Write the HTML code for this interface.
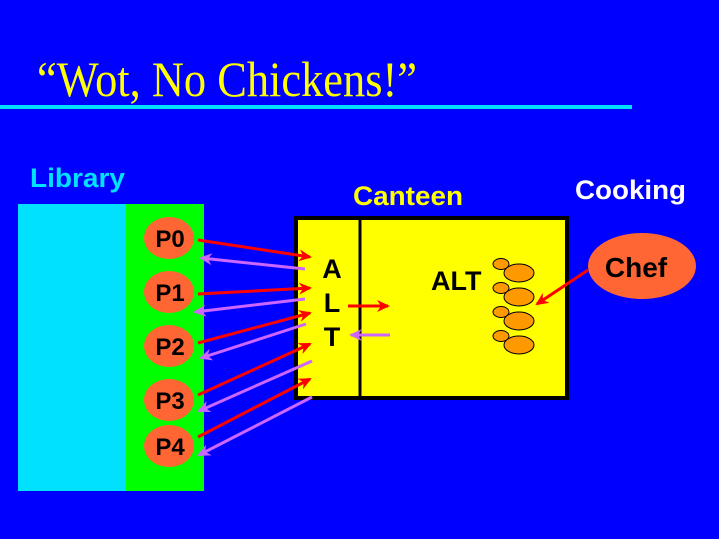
<!DOCTYPE html>
<html><head><meta charset="utf-8"><style>html,body{margin:0;padding:0;background:#0000ff;}svg{display:block}</style></head>
<body>
<svg width="719" height="539" viewBox="0 0 719 539" xmlns="http://www.w3.org/2000/svg">
<defs>
<marker id="r" markerWidth="14" markerHeight="12" refX="11" refY="6" orient="auto" markerUnits="userSpaceOnUse"><path d="M0,0 L13,6 L0,12 L4,6 Z" fill="#ff0000"/></marker>
<marker id="v" markerWidth="14" markerHeight="12" refX="11" refY="6" orient="auto" markerUnits="userSpaceOnUse"><path d="M0,0 L13,6 L0,12 L4,6 Z" fill="#cc66ff"/></marker>
</defs>
<rect width="719" height="539" fill="#0000ff"/>
<text x="37" y="96" font-family="Liberation Serif, serif" font-size="50" fill="#ffff00" textLength="380" lengthAdjust="spacingAndGlyphs">“Wot, No Chickens!”</text>
<rect x="0" y="105" width="632" height="4" fill="#00e0ff"/>
<text x="30" y="187" font-family="Liberation Sans, sans-serif" font-weight="bold" font-size="27" fill="#00e0ff" textLength="95" lengthAdjust="spacingAndGlyphs">Library</text>
<text x="353" y="205" font-family="Liberation Sans, sans-serif" font-weight="bold" font-size="27" fill="#ffff00" textLength="110" lengthAdjust="spacingAndGlyphs">Canteen</text>
<text x="575" y="199" font-family="Liberation Sans, sans-serif" font-weight="bold" font-size="27" fill="#ffffff" textLength="111" lengthAdjust="spacingAndGlyphs">Cooking</text>
<rect x="18" y="204" width="108" height="287" fill="#00e0ff"/>
<rect x="126" y="204" width="78" height="287" fill="#00ff00"/>
<rect x="296" y="218" width="271" height="180" fill="#ffff00" stroke="#000" stroke-width="4"/>
<line x1="360" y1="218" x2="360" y2="398" stroke="#000" stroke-width="3"/>
<g font-family="Liberation Sans, sans-serif" font-weight="bold" font-size="27" fill="#000" text-anchor="middle">
<text x="332" y="278">A</text><text x="332" y="312">L</text><text x="332" y="346">T</text>
</g>
<text x="431" y="290" font-family="Liberation Sans, sans-serif" font-weight="bold" font-size="27" fill="#000">ALT</text>
<g fill="#ff6633">
<ellipse cx="169" cy="238" rx="25" ry="21"/><ellipse cx="169" cy="292" rx="25" ry="21"/><ellipse cx="169" cy="346" rx="25" ry="21"/><ellipse cx="169" cy="400" rx="25" ry="21"/><ellipse cx="169" cy="446" rx="25" ry="21"/>
<ellipse cx="642" cy="266" rx="54" ry="33"/>
</g>
<g font-family="Liberation Sans, sans-serif" font-weight="bold" font-size="24" fill="#000" text-anchor="middle">
<text x="170" y="247">P0</text><text x="170" y="301">P1</text><text x="170" y="355">P2</text><text x="170" y="409">P3</text><text x="170" y="455">P4</text>
</g>
<text x="636" y="277" font-family="Liberation Sans, sans-serif" font-weight="bold" font-size="28" fill="#000" text-anchor="middle">Chef</text>
<g fill="#ff9900" stroke="#000" stroke-width="1">
<ellipse cx="501" cy="264" rx="8" ry="5.5"/><ellipse cx="519" cy="273" rx="15" ry="9"/>
<ellipse cx="501" cy="288" rx="8" ry="5.5"/><ellipse cx="519" cy="297" rx="15" ry="9"/>
<ellipse cx="501" cy="312" rx="8" ry="5.5"/><ellipse cx="519" cy="321" rx="15" ry="9"/>
<ellipse cx="501" cy="336" rx="8" ry="5.5"/><ellipse cx="519" cy="345" rx="15" ry="9"/>
</g>
<g stroke="#ff0000" stroke-width="3" marker-end="url(#r)">
<line x1="198" y1="240" x2="310" y2="257"/>
<line x1="198" y1="294" x2="310" y2="288"/>
<line x1="198" y1="343" x2="310" y2="313"/>
<line x1="198" y1="395" x2="310" y2="344"/>
<line x1="198" y1="437" x2="310" y2="379"/>
<line x1="348" y1="306" x2="388" y2="306"/>
<line x1="588" y1="270" x2="537" y2="304"/>
</g>
<g stroke="#cc66ff" stroke-width="3" marker-end="url(#v)">
<line x1="305" y1="269" x2="201" y2="258"/>
<line x1="305" y1="299" x2="195" y2="312"/>
<line x1="306" y1="324" x2="201" y2="358"/>
<line x1="312" y1="361" x2="199" y2="411"/>
<line x1="312" y1="397" x2="199" y2="455"/>
<line x1="390" y1="335" x2="351" y2="335"/>
</g>
</svg>
</body></html>
